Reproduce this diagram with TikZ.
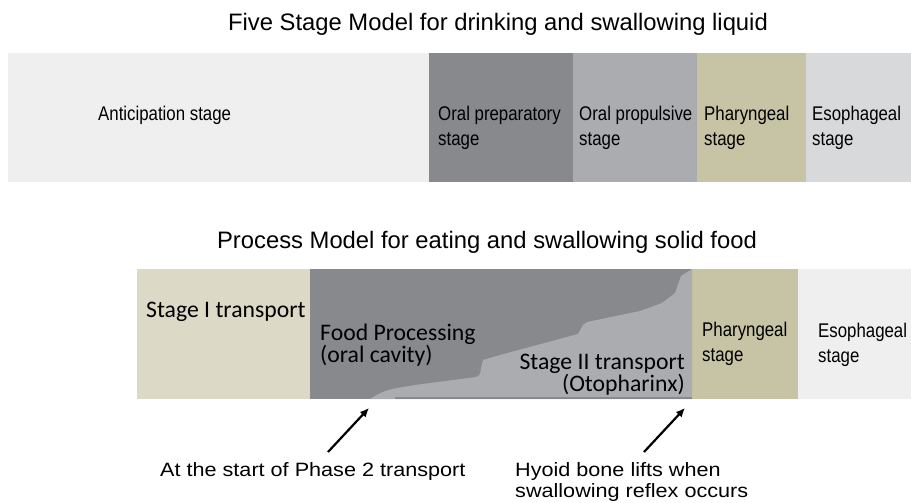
\documentclass[tikz,border=0pt]{standalone}
\usepackage{fontspec}
\setmainfont{Liberation Sans}
\newfontfamily\calib{Carlito}
\newfontfamily\narrowsans[FakeStretch=0.85]{Liberation Sans}
\newfontfamily\widesans[FakeStretch=1.12]{Liberation Sans}
\usetikzlibrary{arrows.meta}
\definecolor{paleback}{HTML}{EFEFEF}
\definecolor{darkoral}{HTML}{87898D}
\definecolor{lightoral}{HTML}{ABACAF}
\definecolor{khaki}{HTML}{C7C3A5}
\definecolor{palekhaki}{HTML}{DCD9C7}
\definecolor{esoph}{HTML}{D8D9DB}

\begin{document}
\begin{tikzpicture}[x=1pt,y=-1pt,
  title/.style={font=\fontsize{23.8}{27}\selectfont,inner sep=0pt},
  stagelbl/.style={anchor=west,align=left,inner sep=0pt,font=\narrowsans\fontsize{19.8}{24.5}\selectfont},
  procelbl/.style={anchor=west,align=left,inner sep=0pt,font=\calib\fontsize{23.7}{20}\selectfont},
  notelbl/.style={anchor=west,align=left,inner sep=0pt,font=\widesans\fontsize{19.3}{20.5}\selectfont},
  pointer/.style={line width=2.2pt,-{Latex[length=9pt,width=8pt]}}]
\useasboundingbox (0,0) rectangle (911,503);
\node[title] (fivetitle) at (498,24) {Five Stage Model for drinking and swallowing liquid};
\foreach \a/\b/\c in {8/429/paleback,429/573/darkoral,573/697/lightoral,697/806/khaki,806/911/esoph}
   \fill[\c] (\a,53) rectangle (\b,182);
\node[stagelbl] (antic) at (98,115) {Anticipation stage};
\node[stagelbl] (oralprep) at (438,128) {Oral preparatory\\stage};
\node[stagelbl] (oralprop) at (579,128) {Oral propulsive\\stage};
\node[stagelbl] (phar) at (704,128) {Pharyngeal\\stage};
\node[stagelbl] (esop) at (812,128) {Esophageal\\stage};
\node[title] (proctitle) at (487,242) {Process Model for eating and swallowing solid food};
\foreach \a/\b/\c in {137/310/palekhaki,310/692/darkoral,692/798/khaki,798/911/paleback}
   \fill[\c] (\a,269) rectangle (\b,399);
\fill[lightoral] (370,399) .. controls (385,390) .. (415,385) -- (476,377)
   .. controls (480,375) .. (481,368) -- (483,360) -- (500,355) -- (578,334)
   -- (583,325) -- (587,322) -- (640,311) -- (662,303) -- (675,293)
   -- (681,276) -- (692,269) -- (692,399) -- cycle;
\draw[darkoral,line width=2pt] (395,398) -- (692,398);
\node[procelbl] (stagei) at (146,312) {Stage I transport};
\node[procelbl] (foodproc) at (320,345) {Food Processing\\(oral cavity)};
\node[procelbl,anchor=east,align=right] (stageii) at (685,375) {Stage II transport\\(Otopharinx)};
\node[stagelbl] (pharb) at (702,344) {Pharyngeal\\stage};
\node[stagelbl] (esopb) at (818,345) {Esophageal\\stage};
\node[notelbl] (startnote) at (160,472) {At the start of Phase 2 transport};
\node[notelbl] (hyoidnote) at (515,482) {Hyoid bone lifts when\\swallowing reflex occurs};
\coordinate (starttail) at (328,452);
\coordinate (starttip) at (369,408);
\coordinate (hyoidtail) at (644,452);
\coordinate (hyoidtip) at (685,408);
\draw[pointer] (starttail) -- (starttip);
\draw[pointer] (hyoidtail) -- (hyoidtip);
\end{tikzpicture}
\end{document}
